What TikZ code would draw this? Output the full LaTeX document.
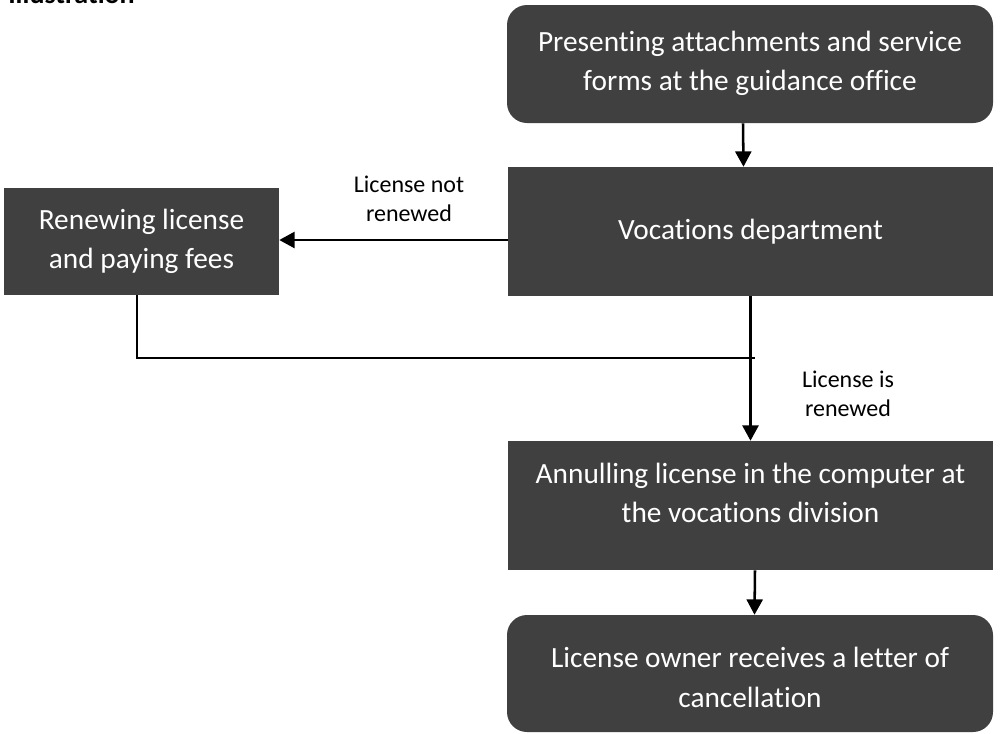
\documentclass[tikz,border=0pt]{standalone}
\usepackage{fontspec}
\setmainfont{Carlito}[Ligatures={NoCommon}]
\usetikzlibrary{arrows.meta}
\definecolor{boxgray}{HTML}{404040}
\begin{document}
\begin{tikzpicture}[x=0.75pt,y=-0.75pt,
  box/.style={fill=boxgray, draw=none, inner sep=0pt},
  roundbox/.style={box, rounded corners=15pt},
  boxtext/.style={text=white, align=center, inner sep=0pt,
    font=\fontsize{22}{29.5}\selectfont},
  edgelabel/.style={text=black, align=center, inner sep=0pt,
    font=\fontsize{18}{21.75}\selectfont},
  flow/.style={draw=black, line width=1.9pt,
    -{Triangle[length=11.5pt,width=12pt]}},
  plain/.style={draw=black, line width=1.9pt}
]
\useasboundingbox (0,0) rectangle (1000,733);

% heading, partly above the page edge
\node[anchor=base west, inner sep=0pt, font=\fontsize{21}{24}\bfseries] (title) at (8,3.5) {Illustration};

% process boxes
\node[roundbox, minimum width=364.5pt, minimum height=88.5pt] (b1) at (750,64) {};
\node[boxtext] (t1) at (750,63) {Presenting attachments and service\\forms at the guidance office};

\node[box, minimum width=363.75pt, minimum height=96.75pt] (b2) at (750.5,231.5) {};
\node[boxtext] (t2) at (750.5,232) {Vocations department};

\node[box, minimum width=206.25pt, minimum height=80.25pt] (b3) at (141.5,241.5) {};
\node[boxtext] (t3) at (141.5,241) {Renewing license\\and paying fees};

\node[box, minimum width=363.75pt, minimum height=96.75pt] (b4) at (750.5,505.5) {};
\node[boxtext] (t4) at (750.5,493) {Annulling license in the computer at\\the vocations division};

\node[roundbox, minimum width=364.5pt, minimum height=87.75pt] (b5) at (750,673.5) {};
\node[boxtext] (t5) at (750,677.5) {License owner receives a letter of\\cancellation};

% branch labels
\node[edgelabel] (l1) at (409,199) {License not\\renewed};
\node[edgelabel] (l2) at (848,394) {License is\\renewed};

% connectors
\draw[flow] ([xshift=-5.25pt]b1.south) -- ([xshift=-5.25pt]b2.north);
\draw[flow] (b2.west |- 0,240) -- (b3.east |- 0,240);
\coordinate (join) at (755,358);
\draw[plain] (b3.south -| 137,0) -- (137,358) -- (join);
\draw[flow] (b2.south) -- (b4.north);
\draw[flow] ([xshift=3.375pt]b4.south) -- ([xshift=3.375pt]b5.north);
\end{tikzpicture}
\end{document}
